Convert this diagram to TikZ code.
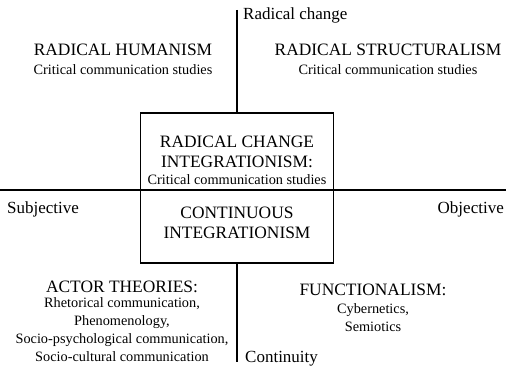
\documentclass[tikz,border=0pt]{standalone}
\usepackage{fontspec}
\setmainfont{Liberation Serif}

\begin{document}
\begin{tikzpicture}[x=1pt,y=-1pt,
    head/.style = {font=\fontsize{17.4}{20}\selectfont, align=center, inner sep=0pt},
    sub/.style = {font=\fontsize{14.3}{18}\selectfont, align=center, inner sep=0pt},
    axis/.style = {font=\fontsize{17}{19}\selectfont, inner sep=0pt}]
    \useasboundingbox (0,0) rectangle (506,369);
    \node at (237,188) [draw,line width=1.5pt,minimum width=193pt,minimum height=150pt] (box) {};
    \coordinate (top) at (237,10);
    \coordinate (bottom) at (237,362);
    \coordinate (left) at (0,190);
    \coordinate (right) at (506,190);
    \draw[line width=1.5pt] (top) -- (box.north);
    \draw[line width=1.5pt] (box.south) -- (bottom);
    \draw[line width=1.5pt] (left) -- (right);
    \node at (243,15) [axis,anchor=west] (change) {Radical change};
    \node at (245,359) [axis,anchor=west] (cont) {Continuity};
    \node at (7,209) [axis,anchor=west] (subj) {Subjective};
    \node at (504,209) [axis,anchor=east] (obj) {Objective};
    \node at (123,50) [head] (rh) {RADICAL HUMANISM};
    \node at (123,70) [sub] (rhs) {Critical communication studies};
    \node at (388,50) [head] (rs) {RADICAL STRUCTURALISM};
    \node at (388,70) [sub] (rss) {Critical communication studies};
    \node at (237,152) [head] (rci) {RADICAL CHANGE\\INTEGRATIONISM:};
    \node at (237,180) [sub] (rcis) {Critical communication studies};
    \node at (237,223) [head] (ci) {CONTINUOUS\\INTEGRATIONISM};
    \node at (122,287) [head] (at) {ACTOR THEORIES:};
    \node at (122,330) [sub] (ats) {Rhetorical communication,\\Phenomenology,\\Socio-psychological communication,\\Socio-cultural communication};
    \node at (373,290) [head] (fu) {FUNCTIONALISM:};
    \node at (373,318) [sub] (fus) {Cybernetics,\\Semiotics};
\end{tikzpicture}
\end{document}
